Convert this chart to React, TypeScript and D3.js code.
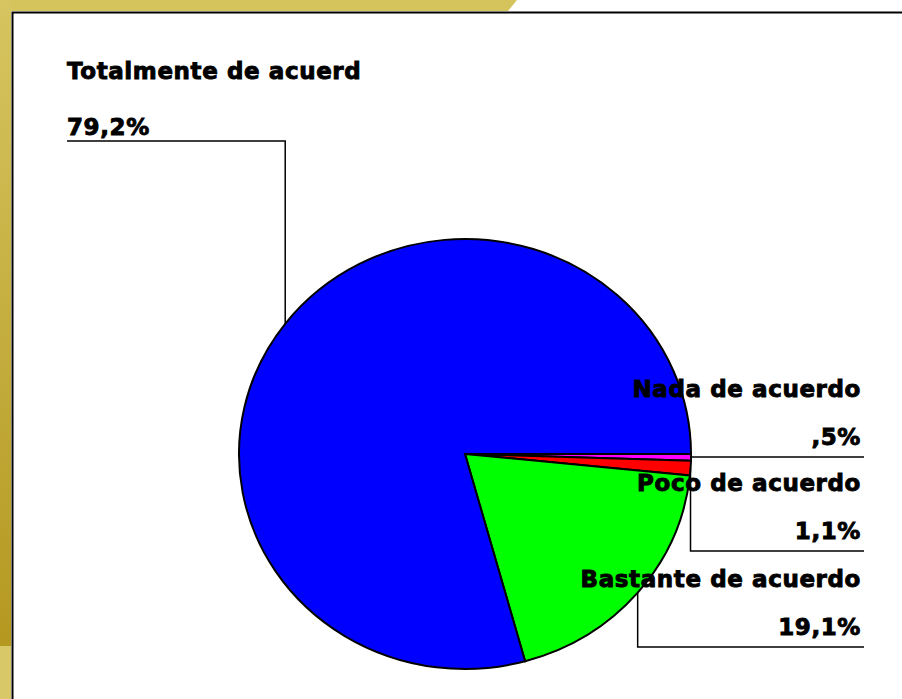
import React, { useRef, useEffect } from 'react';
import * as d3 from 'd3';

const categories = ['Nada de acuerdo', 'Poco de acuerdo', 'Bastante de acuerdo', 'Totalmente de acuerd'];
const values = [0.5, 1.1, 19.1, 79.2];
const valueLabels = [',5%', '1,1%', '19,1%', '79,2%'];
const colors = ['#ff00ff', '#ff0000', '#00ff00', '#0000ff'];

export default function App() {
  const svgRef = useRef<SVGSVGElement | null>(null);

  useEffect(() => {
    if (!svgRef.current) return;
    const width = 902;
    const height = 699;
    const cx = 465, cy = 454, rx = 226, ry = 215;
    const svg = d3.select(svgRef.current);
    svg.selectAll('*').remove();

    // frame: gold bands + black border
    const defs = svg.append('defs');
    const grad = defs.append('linearGradient').attr('id', 'leftBand').attr('x1', 0).attr('y1', 0).attr('x2', 0).attr('y2', 1);
    grad.append('stop').attr('offset', '0%').attr('stop-color', '#d6c560');
    grad.append('stop').attr('offset', '100%').attr('stop-color', '#b49820');
    svg.append('rect').attr('width', width).attr('height', height).attr('fill', '#ffffff');
    svg.append('path').attr('d', 'M0,0 H517 L508,11 H0 Z').attr('fill', '#d5c35c');
    svg.append('rect').attr('x', 0).attr('y', 0).attr('width', 11).attr('height', 646).attr('fill', 'url(#leftBand)');
    svg.append('rect').attr('x', 0).attr('y', 646).attr('width', 11).attr('height', height - 646).attr('fill', '#d8c868');
    svg.append('path').attr('d', `M12.5,${height} V12.5 H${width}`).attr('fill', 'none').attr('stroke', '#000').attr('stroke-width', 2);

    const data = categories.map((c, i) => ({ name: c, value: values[i], label: valueLabels[i], color: colors[i] }));
    const pie = d3.pie<any>().sort(null).value(d => d.value).startAngle(Math.PI / 2).endAngle(Math.PI / 2 + 2 * Math.PI);
    const arcs = pie(data);
    const arc = d3.arc<any>().innerRadius(0).outerRadius(1);

    const g = svg.append('g').attr('transform', `translate(${cx},${cy}) scale(${rx},${ry})`);
    g.selectAll('path').data(arcs).enter().append('path')
      .attr('d', arc as any)
      .attr('fill', d => d.data.color)
      .attr('stroke', '#000')
      .attr('stroke-width', 2)
      .attr('vector-effect', 'non-scaling-stroke');

    const edgePt = (d: any) => {
      const a = (d.startAngle + d.endAngle) / 2;
      return [cx + rx * Math.sin(a), cy - ry * Math.cos(a)];
    };

    const lineYs = [457, 551, 647, 141];
    const font = "'DejaVu Sans', sans-serif";
    const addText = (x: number, y: number, anchor: string, s: string) =>
      svg.append('text').attr('x', x).attr('y', y).attr('text-anchor', anchor)
        .attr('font-family', font).attr('font-weight', 'bold').attr('font-size', 23).attr('letter-spacing', 0.6)
        .attr('fill', '#000').attr('stroke', '#000').attr('stroke-width', 0.9).text(s);

    arcs.forEach((d, i) => {
      const [px, py] = edgePt(d);
      const ly = lineYs[i];
      const left = i === 3;
      const endX = left ? 67 : 864;
      svg.append('path').attr('d', `M${px},${py} V${ly} H${endX}`).attr('fill', 'none').attr('stroke', '#000').attr('stroke-width', 1.5);
      const tx = left ? 67 : 861;
      const anchor = left ? 'start' : 'end';
      addText(tx, left ? ly - 62 : ly - 60, anchor, d.data.name);
      addText(tx, left ? ly - 6 : ly - 12, anchor, d.data.label);
    });
  }, []);

  return (
    <svg ref={svgRef} width={902} height={699} style={{ position: 'absolute', left: 0, top: 0, display: 'block' }} />
  );
}
